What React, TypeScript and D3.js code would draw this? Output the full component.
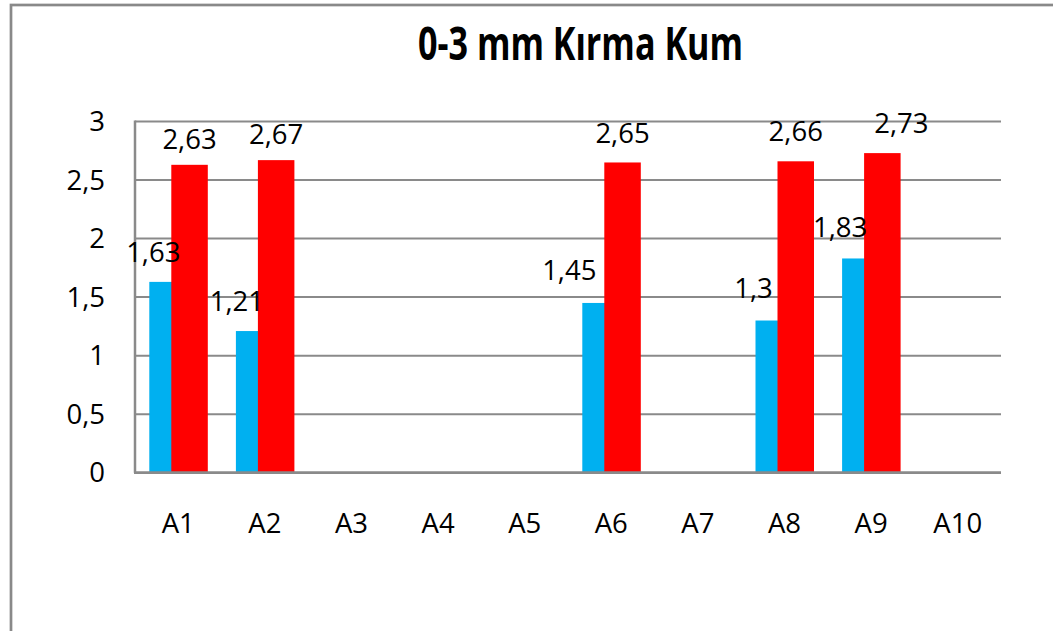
import React from "react";
import * as d3 from "d3";

const categories = ["A1", "A2", "A3", "A4", "A5", "A6", "A7", "A8", "A9", "A10"];
const blueValues: (number | null)[] = [1.63, 1.21, null, null, null, 1.45, null, 1.3, 1.83, null];
const redValues: (number | null)[] = [2.63, 2.67, null, null, null, 2.65, null, 2.66, 2.73, null];
const yTicks = [0, 0.5, 1, 1.5, 2, 2.5, 3];
const title = "0-3 mm Kırma Kum";

// label placement tweaks (manually moved labels in the original)
const blueLabelNudge: Record<string, [number, number]> = {
  A1: [4, -20], A2: [1, -20], A6: [-13, -23], A8: [-2, -23], A9: [-2, -21],
};
const redLabelNudge: Record<string, [number, number]> = {
  A1: [0, -16], A2: [0, -16], A6: [0, -19], A8: [0, -20], A9: [19, -20],
};

const fmt = (v: number) => String(v).replace(".", ",");

export default function App() {
  const W = 1053, H = 631;
  const left = 135, right = 1001, top = 121.5, bottom = 472.7;
  const x = d3.scaleBand<string>().domain(categories).range([left, right]).padding(0);
  const y = d3.scaleLinear().domain([0, 3]).range([bottom, top]);
  const barW = 36.5;
  const font = "'Open Sans', sans-serif";
  const grid = "#8a8a8a";
  const fs = 27.5;

  return (
    <svg width={W} height={H} style={{ position: "absolute", left: 0, top: 0, background: "#fff" }}>
      <rect x={0} y={0} width={W} height={H} fill="#fff" />
      <rect x={11} y={5} width={1200} height={800} fill="none" stroke="#898989" strokeWidth={2.7} />
      <text x={580.5} y={60} textAnchor="middle" fontFamily={font} fontWeight="bold" fontSize={46}
        textLength={325} lengthAdjust="spacingAndGlyphs" fill="#000">
        {title}
      </text>
      {yTicks.map((t) => (
        <g key={t}>
          {t > 0 && (
            <line x1={left} x2={right} y1={y(t)} y2={y(t)} stroke={grid} strokeWidth={2} />
          )}
          <text x={105} y={y(t)} dy="0.35em" textAnchor="end" fontFamily={font} fontSize={fs} fill="#000">
            {fmt(t)}
          </text>
        </g>
      ))}
      {categories.map((c, i) => {
        const cx = x(c)! + x.bandwidth() / 2;
        const b = blueValues[i];
        const r = redValues[i];
        return (
          <g key={c}>
            {b != null && (
              <rect x={cx - 29} y={y(b)} width={barW} height={y(0) - y(b)} fill="#00B0F0" />
            )}
            {r != null && (
              <rect x={cx - 7} y={y(r)} width={barW} height={y(0) - y(r)} fill="#FF0000" />
            )}
            <text x={cx} y={533} textAnchor="middle" fontFamily={font} fontSize={fs} fill="#000">
              {c}
            </text>
          </g>
        );
      })}
      <line x1={left} x2={left} y1={top - 1} y2={bottom} stroke={grid} strokeWidth={2.5} />
      <line x1={left - 1} x2={right} y1={bottom} y2={bottom} stroke={grid} strokeWidth={2.8} />
      {categories.map((c, i) => {
        const cx = x(c)! + x.bandwidth() / 2;
        const b = blueValues[i];
        const r = redValues[i];
        const bn = blueLabelNudge[c] || [0, -19];
        const rn = redLabelNudge[c] || [0, -19];
        return (
          <g key={"l" + c}>
            {b != null && (
              <text x={cx - 29 + bn[0]} y={y(b) + bn[1]} textAnchor="middle" fontFamily={font} fontSize={fs} fill="#000">
                {fmt(b)}
              </text>
            )}
            {r != null && (
              <text x={cx - 7 + barW / 2 + rn[0]} y={y(r) + rn[1]} textAnchor="middle" fontFamily={font} fontSize={fs} fill="#000">
                {fmt(r)}
              </text>
            )}
          </g>
        );
      })}
    </svg>
  );
}
